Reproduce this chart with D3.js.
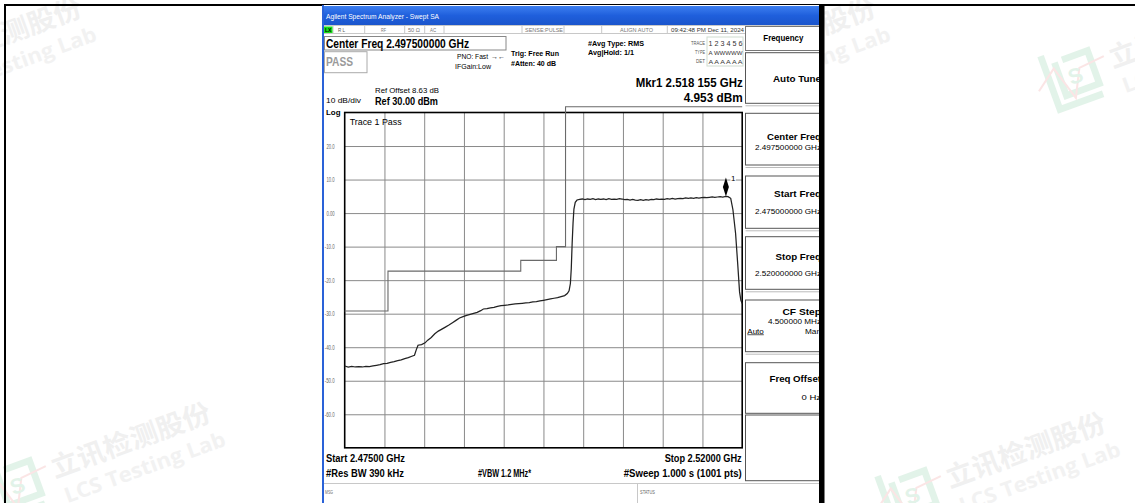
<!DOCTYPE html>
<html><head><meta charset="utf-8">
<script src="https://cdn.jsdelivr.net/npm/d3@7"></script>
<style>html,body{margin:0;padding:0;background:#fff;overflow:hidden}</style>
</head><body><svg id="c" width="1135" height="503"></svg>
<script>
// ---------------- data ----------------
const startMHz = 2475, stopMHz = 2520, divMHz = 4.5;
const refLevel = 30, bottomLevel = -70, dbPerDiv = 10;
const yTickValues = [20, 10, 0, -10, -20, -30, -40, -50, -60];
const yTickLabels = ["20.0", "10.0", "0.00", "-10.0", "-20.0", "-30.0", "-40.0", "-50.0", "-60.0"];

const traceMHz = [
  2475.0, 2475.4, 2475.8, 2476.2, 2476.6, 2477.0, 2477.4, 2477.8, 2478.2, 2478.6,
  2479.0, 2479.4, 2479.8, 2480.2, 2480.6, 2481.0, 2481.4, 2481.8, 2482.2, 2482.6,
  2482.9, 2483.1, 2483.3, 2483.7, 2484.1, 2484.4, 2484.8, 2485.2, 2485.6, 2486.0,
  2486.4, 2486.8, 2487.2, 2487.6, 2488.0, 2488.4, 2488.8, 2489.2, 2489.6, 2490.0,
  2490.4, 2490.7, 2491.1, 2491.5, 2491.9, 2492.3, 2492.7, 2493.1, 2493.5, 2493.9,
  2494.3, 2494.7, 2495.1, 2495.5, 2495.9, 2496.3, 2496.7, 2497.1, 2497.5, 2497.9,
  2498.3, 2498.7, 2499.1, 2499.5, 2499.9, 2500.2, 2500.4, 2500.55, 2500.65, 2500.75,
  2500.85, 2500.95, 2501.1, 2501.3, 2501.6,
  2501.9, 2502.2, 2502.5, 2502.8, 2503.1, 2503.4, 2503.7, 2504.0, 2504.3, 2504.6,
  2504.9, 2505.2, 2505.5, 2505.8, 2506.1, 2506.4, 2506.7, 2507.0, 2507.3, 2507.6,
  2507.9, 2508.2, 2508.5, 2508.8, 2509.1, 2509.4, 2509.7, 2510.0, 2510.3, 2510.6,
  2510.9, 2511.2, 2511.5, 2511.8, 2512.1, 2512.4, 2512.7, 2513.0, 2513.3, 2513.6,
  2513.9, 2514.2, 2514.5, 2514.8, 2515.1, 2515.4, 2515.7, 2516.0, 2516.3, 2516.6,
  2516.9, 2517.2, 2517.5, 2517.8, 2518.155, 2518.4, 2518.7, 2518.95, 2519.25, 2519.5,
  2519.7, 2519.85, 2520.0
];
const traceDb = [
  -45.6, -45.9, -45.7, -45.9, -45.8, -45.9, -45.7, -45.8, -45.6, -45.4,
  -45.2, -44.9, -44.8, -44.5, -44.3, -44.0, -43.8, -43.4, -43.1, -42.7,
  -42.4, -40.8, -39.4, -39.2, -38.7, -37.9, -37.1, -36.0, -35.2, -34.6,
  -34.0, -33.4, -32.7, -32.0, -31.3, -30.9, -30.5, -30.2, -29.9, -29.6,
  -29.1, -28.6, -28.5, -28.3, -28.1, -27.8, -27.6, -27.5, -27.4, -27.2,
  -27.1, -27.0, -26.9, -26.8, -26.7, -26.5, -26.4, -26.2, -26.0, -25.8,
  -25.6, -25.4, -25.2, -24.9, -24.6, -24.0, -23.2, -21.0, -16.5, -9.0,
  -3.0, 1.2, 3.2, 3.9, 4.1,
  4.2, 4.0, 4.2, 4.1, 4.3, 4.0, 4.2, 4.1, 4.2, 4.0,
  4.3, 4.1, 4.2, 4.1, 4.3, 4.2, 4.0, 4.1, 3.9, 4.1,
  3.9, 3.8, 4.0, 3.8, 4.0, 3.9, 4.1, 4.0, 4.2, 4.1,
  4.2, 4.1, 4.3, 4.2, 4.4, 4.2, 4.3, 4.4, 4.3, 4.5,
  4.4, 4.5, 4.4, 4.6, 4.5, 4.6, 4.7, 4.6, 4.7, 4.8,
  4.7, 4.8, 4.9, 4.8, 4.953, 4.9, 4.4, 1.0, -6.0, -15.5,
  -23.5, -26.0, -27.0
];

const limitEdgesMHz = [2475, 2479.9, 2494.93, 2498.97, 2500.0, 2520];
const limitDb = [-29.2, -17.3, -14.1, -10.0, 31.7];

const markerMHz = [2518.155];
const markerDb = [4.953];

// ---------------- drawing ----------------
const F = "'Liberation Sans Narrow','Arial Narrow','Liberation Sans',Arial,sans-serif";
const svg = d3.select("#c");
svg.append("rect").attr("width", 1135).attr("height", 503).attr("fill", "#fff");

// watermarks
const wm = svg.append("g");
function watermark(ox, oy) {
  const g = wm.append("g").attr("transform", `translate(${ox},${oy}) rotate(-20)`);
  g.append("text").attr("x", 0).attr("y", 0).text("立讯检测股份")
    .attr("font-family", "'Noto Sans CJK SC',sans-serif").attr("font-weight", "bold")
    .attr("font-size", 27).attr("fill", "#f0f0f0")
    .attr("textLength", 168).attr("lengthAdjust", "spacingAndGlyphs");
  g.append("text").attr("x", 3).attr("y", 28).text("LCS Testing Lab")
    .attr("font-family", "'Open Sans',sans-serif").attr("font-weight", "bold")
    .attr("font-size", 21).attr("fill", "#f2f2f2")
    .attr("textLength", 170).attr("lengthAdjust", "spacingAndGlyphs");
  const lg = g.append("g").attr("transform", "translate(-64,10) scale(1.35)").attr("opacity", 0.12);
  lg.append("path").attr("d", "M0,-34 L0,8 L34,8 M8,-26 L8,0 L34,0 L34,-26 L14,-26")
    .attr("fill", "none").attr("stroke", "#1aa050").attr("stroke-width", 5);
  lg.append("path").attr("d", "M-10,-10 L6,-22 L14,4 L24,-16 L44,-18")
    .attr("fill", "none").attr("stroke", "#e03030").attr("stroke-width", 1.5);
  lg.append("text").attr("x", 14).attr("y", -6).text("S").attr("font-family", "Arial")
    .attr("font-weight", "bold").attr("font-size", 16).attr("fill", "#1aa050");
}
watermark(-74, 73);
watermark(55, 478);
watermark(720, 73);
watermark(1113, 68);
watermark(950, 488);

// outer frame (left and top edges visible)
svg.append("rect").attr("x", 5).attr("y", 5).attr("width", 1140).attr("height", 510)
  .attr("fill", "none").attr("stroke", "#000").attr("stroke-width", 2);

// screenshot panel
const scr = svg.append("g");
const defs = svg.append("defs");
defs.append("clipPath").attr("id", "scrclip").append("rect")
  .attr("x", 323).attr("y", 5).attr("width", 496).attr("height", 500);
const lgrad = defs.append("linearGradient").attr("id", "tb").attr("x1", 0).attr("y1", 0).attr("x2", 0).attr("y2", 1);
lgrad.append("stop").attr("offset", "0").attr("stop-color", "#3d7ff0");
lgrad.append("stop").attr("offset", "0.5").attr("stop-color", "#1f5fdc");
lgrad.append("stop").attr("offset", "1").attr("stop-color", "#1a55cc");

const g = scr.append("g").attr("clip-path", "url(#scrclip)");
g.append("rect").attr("x", 323).attr("y", 5).attr("width", 497).attr("height", 500).attr("fill", "#fff");
g.append("rect").attr("x", 323).attr("y", 6).attr("width", 497).attr("height", 19).attr("fill", "url(#tb)");

function t(x, y, s, o = {}) {
  const e = g.append("text").attr("x", x).attr("y", y).text(s)
    .attr("font-family", o.ff || F).attr("font-size", o.fs || 8)
    .attr("font-weight", o.fw || "bold").attr("fill", o.fill || "#000")
    .attr("text-anchor", o.a || "start");
  if (o.w) e.attr("textLength", o.w).attr("lengthAdjust", "spacingAndGlyphs");
  if (o.u) e.attr("text-decoration", "underline");
  return e;
}
function box(x, y, w, h, stroke, sw, fill) {
  return g.append("rect").attr("x", x).attr("y", y).attr("width", w).attr("height", h)
    .attr("fill", fill || "none").attr("stroke", stroke).attr("stroke-width", sw || 1);
}
function hline(x1, x2, y, c, sw) { g.append("line").attr("x1", x1).attr("x2", x2).attr("y1", y).attr("y2", y).attr("stroke", c).attr("stroke-width", sw || 1); }
function vline(x, y1, y2, c, sw) { g.append("line").attr("x1", x).attr("x2", x).attr("y1", y1).attr("y2", y2).attr("stroke", c).attr("stroke-width", sw || 1); }

// title
t(326, 18.5, "Agilent Spectrum Analyzer - Swept SA", { fs: 8, fw: "normal", fill: "#fff", w: 113 });

// status row
box(323.5, 25.5, 496, 8, "#c8c8c8", 1, "#fff");
[333, 364.7, 404.7, 424.7, 444, 522, 564, 601.7, 667.3].forEach(x => vline(x, 25.5, 33.5, "#c8c8c8"));
g.append("rect").attr("x", 324).attr("y", 26.5).attr("width", 8.5).attr("height", 6.5).attr("fill", "#19e019");
t(325, 32, "LX", { fs: 5.5, w: 6.5 });
t(338, 32, "R L", { fs: 5.5, fw: "normal", fill: "#555", w: 7 });
t(381, 32, "RF", { fs: 5.5, fw: "normal", fill: "#777", w: 5 });
t(408, 32, "50 Ω", { fs: 5.5, fw: "normal", fill: "#777", w: 12 });
t(430, 32, "AC", { fs: 5.5, fw: "normal", fill: "#777", w: 6 });
t(525, 32, "SENSE:PULSE", { fs: 5.5, fw: "normal", fill: "#777", w: 38 });
t(620, 32, "ALIGN AUTO", { fs: 5.5, fw: "normal", fill: "#777", w: 33 });
t(671, 32, "09:42:48 PM Dec 11, 2024", { fs: 6, fw: "normal", fill: "#333", w: 73 });

// info area
box(324.5, 36.5, 181.5, 13.5, "#888", 1);
t(326, 47.5, "Center Freq 2.497500000 GHz", { fs: 12, w: 143 });
box(324.5, 51.7, 42.5, 21, "#aaa", 1);
t(326, 66, "PASS", { fs: 12, fill: "#9a9a9a", w: 27 });
t(457, 58.5, "PNO: Fast", { fs: 6.5, fw: "normal", w: 31 });
t(491, 58.5, "→←", { fs: 6.5, fw: "normal", w: 14 });
t(455, 68.5, "IFGain:Low", { fs: 6.5, fw: "normal", w: 36 });
t(511, 56, "Trig: Free Run", { fs: 8, w: 48 });
t(511, 66, "#Atten: 40 dB", { fs: 8, w: 45 });
t(588, 45.5, "#Avg Type: RMS", { fs: 8, w: 56 });
t(588, 54.5, "Avg|Hold: 1/1", { fs: 8, w: 46 });
box(707, 37, 36, 29, "#d0dcd0", 1);
t(705, 45, "TRACE", { fs: 4.5, fw: "normal", fill: "#555", a: "end", w: 14 });
t(705, 54, "TYPE", { fs: 4.5, fw: "normal", fill: "#555", a: "end", w: 10 });
t(705, 63, "DET", { fs: 4.5, fw: "normal", fill: "#555", a: "end", w: 9 });
t(708.5, 45.5, "1 2 3 4 5 6", { fs: 6.5, fw: "normal", fill: "#333", w: 34 });
t(708.5, 54.5, "A WWWWW", { fs: 6, fw: "normal", fill: "#333", w: 34 });
t(708.5, 63.5, "A A A A A A", { fs: 6, fw: "normal", fill: "#333", w: 34 });
t(375, 92.5, "Ref Offset 8.63 dB", { fs: 8, fw: "normal", w: 64 });
t(742.7, 87, "Mkr1 2.518 155 GHz", { fs: 13, a: "end", w: 107 });
t(742.7, 102, "4.953 dBm", { fs: 13, a: "end", w: 59 });
t(326, 103, "10 dB/div", { fs: 8, fw: "normal", w: 35 });
t(375, 104.5, "Ref 30.00 dBm", { fs: 11, w: 63 });
t(326, 115, "Log", { fs: 8, w: 14.5 });

// plot
const x0 = 344.7, x1 = 742.2, yTop = 112.5, yBot = 447.8;
const x = d3.scaleLinear().domain([startMHz, stopMHz]).range([x0, x1]);
const y = d3.scaleLinear().domain([bottomLevel, refLevel]).range([yBot, yTop]);

const vTicks = d3.range(1, 10).map(i => startMHz + i * divMHz);
const hTicks = d3.range(1, 10).map(i => refLevel - i * dbPerDiv);

const gx = g.append("g").attr("transform", `translate(0,${yBot})`)
  .call(d3.axisBottom(x).tickValues(vTicks).tickSize(-(yBot - yTop)).tickFormat(""));
gx.select(".domain").remove();
gx.selectAll("line").attr("stroke", "#8a8a8a").attr("stroke-width", 1);

const gy = g.append("g").attr("transform", `translate(${x0},0)`)
  .call(d3.axisLeft(y).tickValues(hTicks).tickSize(-(x1 - x0)).tickFormat(""));
gy.select(".domain").remove();
gy.selectAll("line").attr("stroke", "#8a8a8a").attr("stroke-width", 1);

const gl = g.append("g").attr("transform", `translate(${x0},0)`)
  .call(d3.axisLeft(y).tickValues(yTickValues).tickSize(0).tickPadding(10)
    .tickFormat((d, i) => yTickLabels[i]));
gl.select(".domain").remove();
gl.selectAll("text").attr("font-family", F).attr("font-size", 6.5).attr("fill", "#666")
  .each(function (d, i) {
    const s = yTickLabels[i];
    const w = s.replace(/[^0-9]/g, "").length * 2.4 + 1 + (s.startsWith("-") ? 1.8 : 0);
    d3.select(this).attr("textLength", w).attr("lengthAdjust", "spacingAndGlyphs");
  });

// plot border
g.append("rect").attr("x", x0).attr("y", yTop).attr("width", x1 - x0).attr("height", yBot - yTop)
  .attr("fill", "none").attr("stroke", "#000").attr("stroke-width", 1.6);

// limit line
const limitPts = limitDb.map((v, i) => [limitEdgesMHz[i], v]);
limitPts.push([limitEdgesMHz[limitEdgesMHz.length - 1], limitDb[limitDb.length - 1]]);
g.append("path").datum(limitPts)
  .attr("d", d3.line().x(d => x(d[0])).y(d => y(d[1])).curve(d3.curveStepAfter))
  .attr("fill", "none").attr("stroke", "#6a6a6a").attr("stroke-width", 1.1);

// trace
const trace = traceMHz.map((f, i) => [f, traceDb[i]]);
g.append("path").datum(trace)
  .attr("d", d3.line().x(d => x(d[0])).y(d => y(d[1])))
  .attr("fill", "none").attr("stroke", "#222").attr("stroke-width", 1.25);

// trace label
t(349.7, 125, "Trace 1 Pass", { fs: 9, fw: "normal", w: 52 });

// marker
markerMHz.forEach((f, i) => {
  const mx = x(f), my = y(markerDb[i]);
  g.append("path").attr("d", `M${mx},${my - 19} L${mx + 3},${my - 9.5} L${mx},${my} L${mx - 3},${my - 9.5} Z`)
    .attr("fill", "#000");
  g.append("rect").attr("x", mx + 4.5).attr("y", my - 22).attr("width", 5.5).attr("height", 8).attr("fill", "#fff");
  t(mx + 5, my - 15, "1", { fs: 8, fw: "normal" });
});

// bottom annotations
t(326, 462, "Start 2.47500 GHz", { fs: 11, w: 79 });
t(326, 476.5, "#Res BW 390 kHz", { fs: 11, w: 78 });
t(478, 476.5, "#VBW 1.2 MHz*", { fs: 11, w: 53 });
t(741.7, 462, "Stop 2.52000 GHz", { fs: 11, a: "end", w: 77 });
t(741.7, 476.5, "#Sweep  1.000 s (1001 pts)", { fs: 11, a: "end", w: 118 });

hline(323, 820, 483.5, "#c8c8c8", 1);
vline(637.5, 483.5, 503, "#c8c8c8");
t(325, 494, "MSG", { fs: 4.5, fw: "normal", fill: "#666", w: 8 });
t(640, 494, "STATUS", { fs: 4.5, fw: "normal", fill: "#666", w: 15 });

// softkey panel
box(745.5, 26.5, 80, 24, "#777", 1, "#fff");
t(783.3, 40.5, "Frequency", { fs: 8.5, a: "middle", w: 40 });
const keyEnd = 821;
const keys = [
  { y: 52.7, h: 50.6, a: "Auto Tune", aw: 48, ay: 81.5 },
  { y: 113.3, h: 51.7, a: "Center Freq", aw: 54, ay: 140, b: "2.497500000 GHz", by: 149.5 },
  { y: 176, h: 52.3, a: "Start Freq", aw: 47, ay: 196.5, b: "2.475000000 GHz", by: 213.5 },
  { y: 236.7, h: 52.6, a: "Stop Freq", aw: 45.5, ay: 260, b: "2.520000000 GHz", by: 276 },
  { y: 300, h: 51.7, a: "CF Step", aw: 38.5, ay: 315, b: "4.500000 MHz", bw: 53, by: 324.3 },
  { y: 362.7, h: 50.6, a: "Freq Offset", aw: 51.5, ay: 381.5, b: "0 Hz", bw: 19.5, by: 399.5 }
];
keys.push({ y: 415, h: 65.7 });
keys.forEach((k, i) => {
  box(745.5, k.y, 80, k.h, "#555", 1, "#fff");
  if (i < keys.length - 1) hline(745.5, 820, k.y + k.h + 2.5, "#bbb", 1);
  if (k.a) t(keyEnd, k.ay, k.a, { fs: 9, a: "end", w: k.aw });
  if (k.b) t(keyEnd, k.by, k.b, { fs: 6.5, fw: "normal", a: "end", w: k.bw || 66 });
});
t(747.3, 333.5, "Auto", { fs: 6.5, fw: "normal", w: 16.5, u: true });
t(keyEnd, 333.5, "Man", { fs: 6.5, fw: "normal", a: "end", w: 16 });

// panel edges
svg.append("rect").attr("x", 322).attr("y", 5).attr("width", 2).attr("height", 498).attr("fill", "#2a62d8");
svg.append("rect").attr("x", 819).attr("y", 5).attr("width", 5.5).attr("height", 498).attr("fill", "#000");
</script></body></html>
